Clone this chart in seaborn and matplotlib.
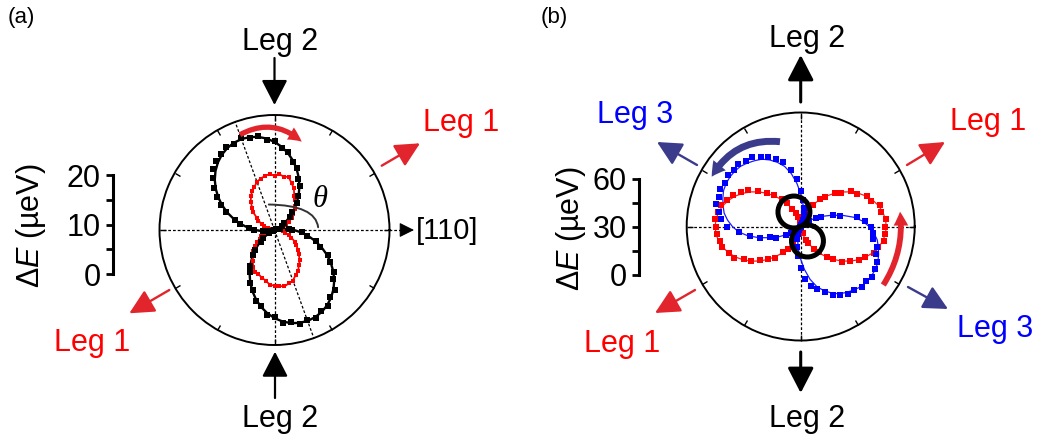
import numpy as np
import matplotlib
matplotlib.use("Agg")
import matplotlib.pyplot as plt
import seaborn as sns
from matplotlib.lines import Line2D
from matplotlib.patches import FancyArrowPatch

# ---------------------------------------------------------------- data
# polarisation angle grid (degrees), one value every 5 degrees
angle_deg = np.arange(0, 360, 5)

# panel (a): splitting in micro-eV
a_black_fit = [3.92, 2.58, 1.42, 0.51, 0.0, 0.51, 1.42, 2.58, 3.92, 5.38, 6.93, 8.51,
               10.10, 11.65, 13.14, 14.53, 15.80, 16.91, 17.85, 18.61, 19.16, 19.49, 19.60, 19.49,
               19.16, 18.61, 17.85, 16.91, 15.80, 14.53, 13.14, 11.65, 10.10, 8.51, 6.93, 5.38,
               3.92, 2.58, 1.42, 0.51, 0.0, 0.51, 1.42, 2.58, 3.92, 5.38, 6.93, 8.51,
               10.10, 11.65, 13.14, 14.53, 15.80, 16.91, 17.85, 18.61, 19.16, 19.49, 19.60, 19.49,
               19.16, 18.61, 17.85, 16.91, 15.80, 14.53, 13.14, 11.65, 10.10, 8.51, 6.93, 5.38]
a_black_pts = [3.6, 2.9, 1.2, 0.7, 0.3, 0.6, 1.7, 2.3, 4.2, 5.1, 7.2, 8.3,
               10.4, 11.4, 13.4, 14.2, 16.1, 16.6, 18.1, 18.3, 19.4, 19.2, 19.8, 19.3,
               19.5, 18.9, 18.3, 17.5, 16.3, 14.9, 13.5, 11.9, 10.4, 8.2, 7.1, 5.1,
               4.1, 2.4, 1.6, 0.4, 0.2, 0.7, 1.3, 2.8, 3.7, 5.6, 6.7, 8.8,
               9.8, 11.9, 12.9, 14.8, 15.6, 17.2, 17.6, 18.9, 18.9, 19.7, 19.4, 19.7,
               18.9, 18.8, 17.6, 17.2, 15.5, 14.8, 12.9, 11.9, 9.9, 8.7, 6.7, 5.6]
a_red_pts = [0.5, 0.7, 0.8, 1.4, 1.7, 2.6, 3.3, 4.3, 4.9, 5.9, 6.4, 7.4,
             8.0, 9.3, 10.1, 11.1, 11.0, 11.3, 11.0, 11.4, 11.1, 10.8, 10.4, 9.6,
             9.1, 8.3, 7.5, 6.4, 5.7, 4.4, 3.8, 2.8, 2.2, 1.4, 1.1, 0.6,
             0.6, 0.9, 1.1, 1.8, 2.2, 3.1, 3.5, 4.4, 5.1, 6.1, 6.8, 7.7,
             8.6, 9.4, 9.5, 10.0, 10.4, 11.1, 11.3, 11.4, 11.6, 11.2, 10.9, 10.1,
             9.6, 8.6, 8.0, 6.9, 6.3, 5.3, 4.8, 3.8, 3.2, 2.2, 1.7, 0.9]

# panel (b): splitting in micro-eV
b_red_fit = [53.5, 53.14, 52.08, 50.35, 47.98, 45.04, 41.59, 37.74, 33.56, 29.17, 24.69, 20.23,
             15.91, 11.85, 8.18, 5.02, 2.50, 0.75, 0.0, 0.75, 2.50, 5.02, 8.18, 11.85,
             15.91, 20.23, 24.69, 29.17, 33.56, 37.74, 41.59, 45.04, 47.98, 50.35, 52.08, 53.14,
             53.5, 53.14, 52.08, 50.35, 47.98, 45.04, 41.59, 37.74, 33.56, 29.17, 24.69, 20.23,
             15.91, 11.85, 8.18, 5.02, 2.50, 0.75, 0.0, 0.75, 2.50, 5.02, 8.18, 11.85,
             15.91, 20.23, 24.69, 29.17, 33.56, 37.74, 41.59, 45.04, 47.98, 50.35, 52.08, 53.14]
b_red_pts = [52.8, 53.6, 51.2, 51.0, 47.0, 45.8, 40.6, 38.5, 32.6, 30.0, 24.0, 21.2,
             15.2, 12.6, 7.5, 5.6, 2.1, 1.2, 0.4, 1.3, 3.1, 6.2, 8.9, 12.4,
             16.8, 20.9, 25.8, 29.9, 34.6, 40.0, 43.2, 46.9, 49.2, 51.7, 52.4, 53.6,
             53.2, 52.6, 51.4, 50.6, 47.6, 46.2, 40.8, 37.8, 32.9, 28.5, 25.3, 19.6,
             16.4, 11.2, 8.6, 4.6, 2.9, 0.9, 0.3, 1.1, 2.8, 4.5, 8.8, 11.2,
             16.5, 19.8, 25.2, 28.7, 34.1, 37.4, 41.8, 44.6, 48.5, 50.1, 52.6, 52.9]
b_blue_fit = [42.7, 38.9, 33.5, 27.0, 20.5, 15.1, 10.3, 6.5, 3.8, 1.9, 0.5, 0.0,
              0.5, 1.9, 3.8, 6.5, 10.3, 15.1, 20.5, 27.0, 33.5, 38.9, 42.7, 45.9,
              48.6, 50.2, 51.8, 53.2, 53.8, 54.0, 53.8, 53.2, 51.8, 50.2, 48.6, 45.9,
              42.7, 38.9, 33.5, 27.0, 20.5, 15.1, 10.3, 6.5, 3.8, 1.9, 0.5, 0.0,
              0.5, 1.9, 3.8, 6.5, 10.3, 15.1, 20.5, 27.0, 33.5, 38.9, 42.7, 45.9,
              48.6, 50.2, 51.8, 53.2, 53.8, 54.0, 53.8, 53.2, 51.8, 50.2, 48.6, 45.9]
b_blue_pts = [44.0, 40.5, 35.6, 25.6, 21.8, 14.0, 11.2, 6.0, 4.4, 1.6, 0.9, 0.3,
              0.8, 2.4, 4.6, 7.8, 11.6, 16.8, 22.4, 29.5, 35.8, 41.6, 44.9, 48.2,
              50.1, 52.8, 53.6, 55.4, 54.6, 55.8, 54.9, 55.6, 54.3, 55.1, 51.9, 50.2,
              46.1, 38.6, 32.4, 26.6, 20.1, 16.8, 10.9, 7.2, 4.1, 2.4, 0.8, 0.2,
              0.9, 2.6, 4.9, 8.4, 12.8, 18.6, 26.2, 32.8, 37.6, 40.4, 43.5, 47.3,
              49.2, 51.6, 51.9, 53.8, 53.1, 54.6, 53.4, 52.7, 50.4, 49.5, 46.2, 45.4]
b_black_fit = [8.45, 6.84, 5.18, 3.47, 1.74, 0.0, 1.74, 3.47, 5.18, 6.84, 8.45, 10.0,
               11.47, 12.86, 14.14, 15.32, 16.38, 17.32, 18.13, 18.79, 19.32, 19.70, 19.92, 20.0,
               19.92, 19.70, 19.32, 18.79, 18.13, 17.32, 16.38, 15.32, 14.14, 12.86, 11.47, 10.0,
               8.45, 6.84, 5.18, 3.47, 1.74, 0.0, 1.74, 3.47, 5.18, 6.84, 8.45, 10.0,
               11.47, 12.86, 14.14, 15.32, 16.38, 17.32, 18.13, 18.79, 19.32, 19.70, 19.92, 20.0,
               19.92, 19.70, 19.32, 18.79, 18.13, 17.32, 16.38, 15.32, 14.14, 12.86, 11.47, 10.0]

scale_a_ticks = [0, 10, 20]
scale_b_ticks = [0, 30, 60]

# ---------------------------------------------------------------- style
sns.set_theme(style="white")
plt.rcParams["font.family"] = ["Liberation Sans", "DejaVu Sans"]
plt.rcParams["mathtext.fontset"] = "custom"
plt.rcParams["mathtext.rm"] = "Liberation Sans"
plt.rcParams["mathtext.it"] = "Liberation Sans:italic"
plt.rcParams["text.color"] = "black"
plt.rcParams["axes.edgecolor"] = "black"
plt.rcParams["xtick.color"] = "black"
plt.rcParams["ytick.color"] = "black"
plt.rcParams["ytick.left"] = True

RED = "#ff0000"
BLUE = "#0000ff"
ARROW_RED = "#e2242d"
NAVY = "#3b3b8c"
DASH = (0, (2.2, 1.6))

W, H = 1042, 442
fig = plt.figure(figsize=(W / 100, H / 100), dpi=100)


def fpt(x, y):
    """pixel position measured from the top-left corner -> figure fraction"""
    return (x / W, 1 - y / H)


def polar_panel(cx, cy, rad, rmax):
    ax = fig.add_axes([(cx - rad) / W, 1 - (cy + rad) / H, 2 * rad / W, 2 * rad / H],
                      projection="polar")
    ax.set_facecolor("none")
    return ax


def finish_polar(ax, rmax, dashed_dirs):
    for d in dashed_dirs:
        t = np.deg2rad(d)
        ax.plot([t, t], [0, rmax], color="black", lw=0.9, ls=DASH, zorder=1)
    ax.set_ylim(0, rmax)
    ax.set_yticks([])
    ax.set_xticks(np.deg2rad(np.arange(0, 360, 30)))
    ax.set_xticklabels([])
    # theta ticks sit on the outer circle and point inward
    ax.tick_params(axis="x", which="major", top=True, bottom=False, direction="in",
                   length=4, width=1.0, colors="black")
    ax.grid(False)
    ax.spines["polar"].set_linewidth(1.4)
    ax.spines["polar"].set_color("black")
    ax.set_xlabel("")
    ax.set_ylabel("")


def closed(values):
    th = np.deg2rad(np.append(angle_deg, 360))
    return th, np.append(values, values[0])


def scale_bar(x, y0, rad, rmax, ticks, label_x, label_y):
    top = ticks[-1]
    h = top * rad / rmax
    ax = fig.add_axes([x / W, 1 - y0 / H, 0.0008, h / H])
    ax.set_ylim(0, top)
    ax.set_xticks([])
    for s in ("top", "right", "bottom"):
        ax.spines[s].set_visible(False)
    ax.spines["left"].set_linewidth(2.2)
    ax.spines["left"].set_color("black")
    ax.set_yticks(ticks)
    ax.set_yticks([(ticks[0] + ticks[1]) / 2, (ticks[1] + ticks[2]) / 2], minor=True)
    ax.tick_params(axis="y", which="both", left=True, direction="out", length=5, width=2,
                   labelsize=22, pad=4)
    ax.patch.set_visible(False)
    fig.text(*fpt(label_x, label_y), r"$\Delta E$ (µeV)", rotation=90,
             ha="center", va="center", fontsize=22)


def arrow(tail, tip, color, lw, hl=1.55, hw=0.8):
    fig.add_artist(FancyArrowPatch(
        posA=fpt(*tail), posB=fpt(*tip), transform=fig.transFigure,
        arrowstyle=f"-|>,head_length={hl},head_width={hw}", mutation_scale=10,
        color=color, lw=lw, shrinkA=0, shrinkB=0))


def curved_arrow(tail, tip, color, rad, tw=0.36, hw=1.0, hl=1.0):
    fig.add_artist(FancyArrowPatch(
        posA=fpt(*tail), posB=fpt(*tip), transform=fig.transFigure,
        connectionstyle=f"arc3,rad={rad}",
        arrowstyle=f"simple,head_length={hl},head_width={hw},tail_width={tw}",
        mutation_scale=10, color=color, lw=0, shrinkA=0, shrinkB=0))


def label(x, y, s, color="black", size=22):
    fig.text(*fpt(x, y), s, ha="center", va="baseline", fontsize=size, color=color)


# ---------------------------------------------------------------- panel (a)
A_CX, A_CY, A_R, A_RMAX = 274.5, 230, 115, 23.3
ax_a = polar_panel(A_CX, A_CY, A_R, A_RMAX)
th, r = closed(a_black_fit)
sns.lineplot(x=th, y=r, ax=ax_a, sort=False, estimator=None, color="black", lw=1.7, zorder=3)
th, r = closed(a_red_pts)
sns.lineplot(x=th, y=r, ax=ax_a, sort=False, estimator=None, color=RED, lw=1.3, zorder=4)
sns.scatterplot(x=np.deg2rad(angle_deg), y=a_red_pts, ax=ax_a, marker="s", s=11,
                color=RED, linewidth=0, zorder=5)
sns.scatterplot(x=np.deg2rad(angle_deg), y=a_black_pts, ax=ax_a, marker="s", s=15,
                color="black", linewidth=0, zorder=5)
finish_polar(ax_a, A_RMAX, [0, 90, 180, 270, 110, 290])

# [110] axis leaving the circle
fig.add_artist(Line2D([389 / W, 406 / W], [1 - 230 / H] * 2, transform=fig.transFigure,
                      color="black", lw=0.9, ls=DASH))
arrow((404, 230), (414, 230), "black", 0.8, hl=0.9, hw=0.45)
fig.text(*fpt(416, 231), "[110]", ha="left", va="center", fontsize=21)

# angle theta
fig.add_artist(FancyArrowPatch(posA=fpt(318.3, 230), posB=fpt(266, 204.5),
                               transform=fig.transFigure,
                               connectionstyle="angle3,angleA=90,angleB=0",
                               arrowstyle="-", color="#333333", lw=1.4))
fig.text(*fpt(320.5, 200), "θ", family="Liberation Serif", style="italic",
         ha="center", va="center", fontsize=22)

curved_arrow((240, 134.7), (301.7, 141.7), ARROW_RED, -0.35, tw=0.38, hw=1.0, hl=1.0)

label(280, 50, "Leg 2")
arrow((274.5, 58), (274.5, 105), "black", 1.6)
label(280, 427, "Leg 2")
arrow((275, 398), (275, 351.7), "black", 1.6)
label(461, 130.7, "Leg 1", RED)
arrow((381.7, 165.7), (420, 143.3), ARROW_RED, 1.7, hl=1.5, hw=0.75)
label(92.5, 350.7, "Leg 1", RED)
arrow((169.3, 290), (129.3, 313.3), ARROW_RED, 1.7, hl=1.5, hw=0.75)

scale_bar(113, 274, A_R, A_RMAX, scale_a_ticks, 31, 226)
fig.text(*fpt(8, 18), "(a)", ha="left", va="center", fontsize=16)

# ---------------------------------------------------------------- panel (b)
B_CX, B_CY, B_R, B_RMAX = 800.7, 226.5, 114, 71.25
ax_b = polar_panel(B_CX, B_CY, B_R, B_RMAX)
th, r = closed(b_red_fit)
sns.lineplot(x=th, y=r, ax=ax_b, sort=False, estimator=None, color="#ff1a1a", lw=0.9, zorder=3)
th, r = closed(b_blue_fit)
sns.lineplot(x=th, y=r, ax=ax_b, sort=False, estimator=None, color="#1a1aff", lw=0.9, zorder=3)
sns.scatterplot(x=np.deg2rad(angle_deg), y=b_red_pts, ax=ax_b, marker="s", s=14,
                color=RED, linewidth=0, zorder=4)
sns.scatterplot(x=np.deg2rad(angle_deg), y=b_blue_pts, ax=ax_b, marker="s", s=14,
                color=BLUE, linewidth=0, zorder=4)
th, r = closed(b_black_fit)
sns.lineplot(x=th, y=r, ax=ax_b, sort=False, estimator=None, color="black", lw=3.6, zorder=6)
finish_polar(ax_b, B_RMAX, [0, 90, 180, 270])

curved_arrow((780, 141.7), (711.7, 176.7), NAVY, 0.32, tw=0.5, hw=1.15, hl=1.0)
curved_arrow((883.3, 285), (900, 211.7), ARROW_RED, 0.18, tw=0.42, hw=1.05, hl=1.0)

label(807, 47, "Leg 2")
arrow((800.7, 102), (800.7, 55), "black", 2.2)
label(807, 427, "Leg 2")
arrow((800.7, 352), (800.7, 393), "black", 2.2)
label(988, 130, "Leg 1", RED)
arrow((907, 165), (945, 142), ARROW_RED, 1.7, hl=1.5, hw=0.75)
label(635, 123, "Leg 3", BLUE)
arrow((697, 165), (657, 142), NAVY, 1.7, hl=1.5, hw=0.75)
label(622, 352, "Leg 1", RED)
arrow((695, 290), (655, 313), ARROW_RED, 1.7, hl=1.5, hw=0.75)
label(995, 337, "Leg 3", BLUE)
arrow((908, 287), (948, 309), NAVY, 1.7, hl=1.5, hw=0.75)

scale_bar(639, 275, B_R, B_RMAX, scale_b_ticks, 571, 229)
fig.text(*fpt(541, 18), "(b)", ha="left", va="center", fontsize=16)

fig.savefig("out.png", dpi=100)
